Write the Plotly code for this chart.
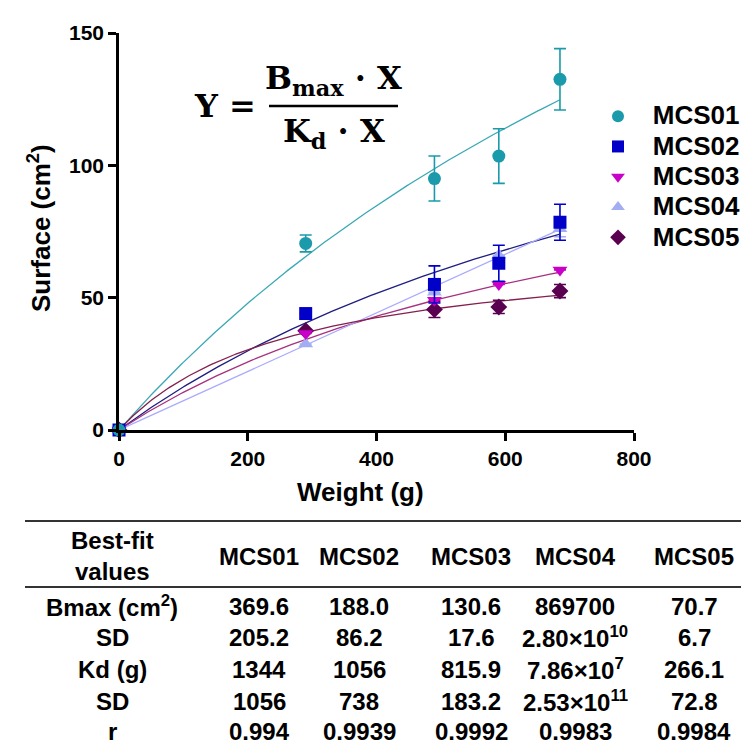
import numpy as np
import plotly.graph_objects as go

# ---------------- data ----------------
weight = [0, 290, 490, 590, 685]
series_names = ["MCS01", "MCS02", "MCS03", "MCS04", "MCS05"]
mcs01 = [0, 70.5, 95.0, 103.5, 132.5]
mcs01_err = [0, 3.2, 8.5, 10.3, 11.6]
mcs02 = [0, 44.0, 55.0, 63.0, 78.5]
mcs02_err = [0, 0, 7.0, 6.8, 6.8]
mcs03 = [0, 36.5, 49.0, 55.0, 60.5]
mcs03_err = [0, 0, 0, 0, 0]
mcs04 = [0, 32.5, 52.0, 66.0, 76.0]
mcs04_err = [0, 0, 0, 0, 3.0]
mcs05 = [0, 37.5, 45.5, 46.5, 52.5]
mcs05_err = [0, 0, 3.0, 2.5, 2.5]

# fitted one-site binding parameters (Bmax, Kd) used to draw the fit curves
fit_bmax = [369.6, 188.0, 130.6, 869700, 70.7]
fit_kd = [1344, 1056, 815.9, 7.86e6, 266.1]

x_ticks = [0, 200, 400, 600, 800]
y_ticks = [0, 50, 100, 150]

# table content
table_header = ["MCS01", "MCS02", "MCS03", "MCS04", "MCS05"]
table_rows = ["<b>Bmax (cm<sup>2</sup>)</b>", "<b>SD</b>", "<b>Kd (g)</b>", "<b>SD</b>", "<b>r</b>"]
table_values = [
    ["369.6", "205.2", "1344", "1056", "0.994"],
    ["188.0", "86.2", "1056", "738", "0.9939"],
    ["130.6", "17.6", "815.9", "183.2", "0.9992"],
    ["869700", "2.80×10<sup>10</sup>", "7.86×10<sup>7</sup>", "2.53×10<sup>11</sup>", "0.9983"],
    ["70.7", "6.7", "266.1", "72.8", "0.9984"],
]

# ---------------- styling ----------------
marker_colors = ["#1b9aab", "#0000c8", "#c800c8", "#a3adf2", "#5a0050"]
line_colors = ["#3aa8b4", "#1e1e82", "#a8307e", "#aaaaff", "#84204e"]
symbols = ["circle", "square", "triangle-down", "triangle-up", "diamond"]
ys = [mcs01, mcs02, mcs03, mcs04, mcs05]
errs = [mcs01_err, mcs02_err, mcs03_err, mcs04_err, mcs05_err]

W, H = 749, 747
L, R, T, B = 111, 626, 25, 422


def px_x(p):
    return (p - L) / (R - L)


def px_y(p):
    return (B - p) / (B - T)


SANS = "Liberation Sans, Arial, sans-serif"
SERIF = "DejaVu Serif, serif"

fig = go.Figure()

# fit curves
for i in range(5):
    xc = np.linspace(0, weight[-1], 200)
    yc = fit_bmax[i] * xc / (fit_kd[i] + xc)
    fig.add_trace(go.Scatter(x=xc, y=yc, mode="lines",
                             line=dict(color=line_colors[i], width=1.3),
                             showlegend=False, hoverinfo="skip"))

# data points (draw in reverse so MCS01 is on top)
for i in reversed(range(5)):
    fig.add_trace(go.Scatter(
        x=weight, y=ys[i], mode="markers",
        name="\u2002\u2009<span style='font-size:26px'><b>%s</b></span>" % series_names[i],
        marker=dict(symbol=symbols[i], size=13, color=marker_colors[i],
                    line=dict(width=0)),
        error_y=dict(type="data", array=errs[i], visible=True,
                     color=marker_colors[i], thickness=1.6, width=6),
        cliponaxis=False, legendrank=i + 1))

annotations = []
shapes = []

# formula
annotations.append(dict(xref="paper", yref="paper", x=px_x(250), y=px_y(98),
                        text="<b>Y =</b>", showarrow=False, xanchor="right",
                        yanchor="middle", font=dict(family=SERIF, size=32, color="black")))
annotations.append(dict(xref="paper", yref="paper", x=px_x(325), y=px_y(72),
                        text="<b>B<sub>max</sub> · X</b>", showarrow=False, xanchor="center",
                        yanchor="middle", font=dict(family=SERIF, size=32, color="black")))
annotations.append(dict(xref="paper", yref="paper", x=px_x(326), y=px_y(125),
                        text="<b>K<sub>d</sub> · X</b>", showarrow=False, xanchor="center",
                        yanchor="middle", font=dict(family=SERIF, size=32, color="black")))
shapes.append(dict(type="line", xref="paper", yref="paper", x0=px_x(261), x1=px_x(390),
                   y0=px_y(98), y1=px_y(98), line=dict(color="black", width=2.5)))

# axis titles
annotations.append(dict(xref="paper", yref="paper", x=px_x(352), y=px_y(484),
                        text="<b>Weight (g)</b>", showarrow=False, xanchor="center",
                        yanchor="middle", font=dict(family=SANS, size=26, color="black")))
annotations.append(dict(xref="paper", yref="paper", x=px_x(32), y=px_y(220),
                        text="<b>Surface (cm<sup>2</sup>)</b>", showarrow=False, textangle=-90,
                        xanchor="center", yanchor="middle",
                        font=dict(family=SANS, size=26, color="black")))

# table
label_cx = 104
col_cx = [251, 351, 463, 567, 686]
header_y = 548
row_y = [598, 629, 661, 693, 724]
TF = dict(family=SANS, size=24, color="black")
shapes.append(dict(type="line", xref="paper", yref="paper", x0=px_x(17), x1=px_x(740),
                   y0=px_y(513), y1=px_y(513), line=dict(color="#333333", width=2)))
shapes.append(dict(type="line", xref="paper", yref="paper", x0=px_x(17), x1=px_x(740),
                   y0=px_y(579), y1=px_y(579), line=dict(color="#333333", width=2)))
annotations.append(dict(xref="paper", yref="paper", x=px_x(label_cx), y=px_y(header_y),
                        text="<b>Best-fit</b><br><b>values</b>", showarrow=False,
                        xanchor="center", yanchor="middle", font=TF))
for j, h in enumerate(table_header):
    annotations.append(dict(xref="paper", yref="paper", x=px_x(col_cx[j]), y=px_y(header_y),
                            text="<b>%s</b>" % h, showarrow=False, xanchor="center",
                            yanchor="middle", font=TF))
for r, lab in enumerate(table_rows):
    annotations.append(dict(xref="paper", yref="paper", x=px_x(label_cx), y=px_y(row_y[r]),
                            text=lab, showarrow=False, xanchor="center",
                            yanchor="middle", font=TF))
    for j in range(5):
        annotations.append(dict(xref="paper", yref="paper", x=px_x(col_cx[j]), y=px_y(row_y[r]),
                                text="<b>%s</b>" % table_values[j][r], showarrow=False,
                                xanchor="center", yanchor="middle", font=TF))

axis_common = dict(showline=True, linecolor="black", linewidth=2.5, ticks="outside",
                   ticklen=8, tickwidth=2.5, tickcolor="black", showgrid=False,
                   zeroline=False,
                   tickfont=dict(family=SANS, size=21, color="black", weight="bold"))

fig.update_layout(
    width=W, height=H, margin=dict(l=L, r=W - R, t=T, b=H - B),
    paper_bgcolor="white", plot_bgcolor="white",
    xaxis=dict(range=[0, 800], tickvals=x_ticks, **axis_common),
    yaxis=dict(range=[0, 150], tickvals=y_ticks, **axis_common),
    legend=dict(x=px_x(590), y=px_y(88), xanchor="left", yanchor="top",
                font=dict(family=SANS, size=21, color="black"),
                bgcolor="rgba(0,0,0,0)", tracegroupgap=0, itemsizing="constant"),
    annotations=annotations, shapes=shapes,
)

fig.write_html("out.html")
